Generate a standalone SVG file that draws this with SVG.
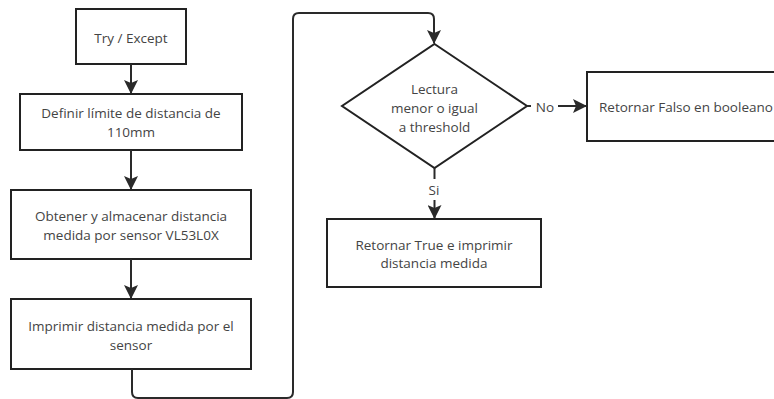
<svg xmlns="http://www.w3.org/2000/svg" width="774" height="399" viewBox="0 0 774 399">
<defs>
<marker id="ah" markerWidth="14" markerHeight="14" refX="13" refY="7" orient="auto" markerUnits="userSpaceOnUse">
<path d="M0,0 L14,7 L0,14 L3,7 Z" fill="#2a2a2a"/>
</marker>
<style>
.box{fill:#fff;stroke:#222;stroke-width:2}
.t{font-family:"Open Sans","Liberation Sans",sans-serif;font-size:13.5px;fill:#444;text-anchor:middle;dominant-baseline:central}
.c{fill:none;stroke:#2a2a2a;stroke-width:2}
</style>
</defs>
<rect width="774" height="399" fill="#fff"/>
<g id="n1"><rect class="box" x="76" y="9" width="110" height="55"/><text class="t" x="131" y="38">Try / Except</text></g>
<g id="n2"><rect class="box" x="20" y="94" width="222" height="56"/><text class="t" x="131" y="113">Definir límite de distancia de</text><text class="t" x="131" y="132">110mm</text></g>
<g id="n3"><rect class="box" x="11" y="190" width="240" height="69"/><text class="t" x="131" y="216">Obtener y almacenar distancia</text><text class="t" x="131" y="235">medida por sensor VL53L0X</text></g>
<g id="n4"><rect class="box" x="11" y="299" width="240" height="70"/><text class="t" x="131" y="326">Imprimir distancia medida por el</text><text class="t" x="131" y="345">sensor</text></g>
<g id="n5"><polygon class="box" points="434.5,44 527,106 434.5,168 342,106"/><text class="t" x="434.5" y="89">Lectura</text><text class="t" x="434.5" y="108">menor o igual</text><text class="t" x="434.5" y="127">a threshold</text></g>
<g id="n6"><rect class="box" x="327" y="219" width="214" height="68"/><text class="t" x="434" y="245">Retornar True e imprimir</text><text class="t" x="434" y="263">distancia medida</text></g>
<g id="n7"><rect class="box" x="587" y="72" width="220" height="69"/><text class="t" x="599" y="107" style="text-anchor:start">Retornar Falso en booleano</text></g>
<g id="connectors">
<path class="c" d="M131,64 V93" marker-end="url(#ah)"/>
<path class="c" d="M131,150 V189" marker-end="url(#ah)"/>
<path class="c" d="M131,259 V298" marker-end="url(#ah)"/>
<path class="c" d="M132,369 V392 Q132,398 138,398 H287 Q293,398 293,392 V19 Q293,13 299,13 H428 Q434,13 434,19 V43" marker-end="url(#ah)"/>
<path class="c" d="M434.5,168 V179"/>
<text class="t" x="434" y="190">Si</text>
<path class="c" d="M434.5,200 V218" marker-end="url(#ah)"/>
<path class="c" d="M527,106 H531"/>
<text class="t" x="545" y="107">No</text>
<path class="c" d="M558,106 H586" marker-end="url(#ah)"/>
</g>
</svg>
